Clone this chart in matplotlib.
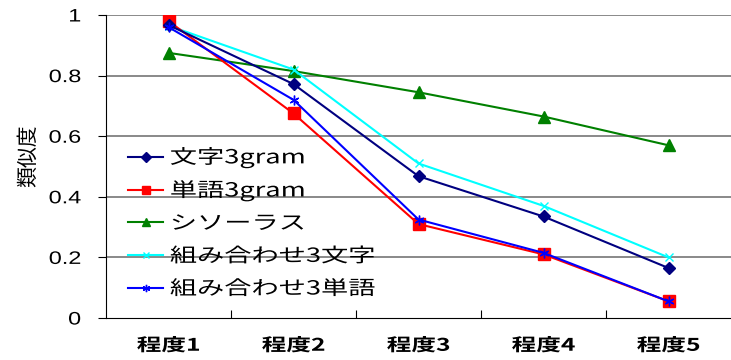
import matplotlib
matplotlib.use("Agg")
import matplotlib.pyplot as plt
from matplotlib.patheffects import AbstractPathEffect
from matplotlib.transforms import Affine2D

plt.rcParams['font.family'] = ['Noto Sans CJK JP', 'DejaVu Sans']

categories = ["程度1", "程度2", "程度3", "程度4", "程度5"]
moji3gram = [0.967, 0.772, 0.468, 0.335, 0.165]
tango3gram = [0.98, 0.675, 0.31, 0.21, 0.055]
thesaurus = [0.875, 0.815, 0.745, 0.665, 0.57]
kumi_moji = [0.965, 0.82, 0.51, 0.37, 0.2]
kumi_tango = [0.96, 0.72, 0.325, 0.215, 0.055]
series_labels = ["文字3gram", "単語3gram", "シソーラス", "組み合わせ3文字", "組み合わせ3単語"]
yticks = [0, 0.2, 0.4, 0.6, 0.8, 1]
ytick_labels = ["0", "0.2", "0.4", "0.6", "0.8", "1"]


class Stretch(AbstractPathEffect):
    """Horizontally stretch text glyphs around an anchor."""
    def __init__(self, sx, anchor="left"):
        super().__init__()
        self.sx = sx
        self.anchor = anchor

    def draw_path(self, renderer, gc, tpath, affine, rgbFace=None):
        ext = tpath.get_extents()
        if self.anchor == "left":
            x0 = 0.0
        elif self.anchor == "right":
            x0 = ext.x1
        else:
            x0 = (ext.x0 + ext.x1) / 2
        aff = Affine2D().translate(-x0, 0).scale(self.sx, 1).translate(x0, 0) + affine
        renderer.draw_path(gc, tpath, aff, rgbFace)


W, H = 731, 360
fig = plt.figure(figsize=(W / 100, H / 100), dpi=100)
ax = fig.add_axes([106 / W, 1 - 318 / H, 1 - 106 / W, 303 / H])

x = list(range(len(categories)))
ax.plot(x, moji3gram, color="#000080", marker="D", markersize=6.5, lw=1.5, label=series_labels[0], zorder=5)
ax.plot(x, tango3gram, color="#ff0000", marker="s", markersize=8.5, lw=1.5, label=series_labels[1], zorder=4)
ax.plot(x, thesaurus, color="#008000", marker="^", markersize=8.5, lw=1.5, label=series_labels[2], zorder=3)
ax.plot(x, kumi_moji, color="#00ffff", marker="x", markersize=6, lw=1.5, label=series_labels[3], zorder=3)
ax.plot(x, kumi_tango, color="#0000ff", marker=(6, 2, 0), markersize=7, lw=1.5, label=series_labels[4], zorder=6)

ax.set_xlim(-0.5, 4.5)
ax.set_ylim(0, 1)
ax.set_yticks(yticks)
ylabs = ax.set_yticklabels(ytick_labels, fontsize=13, family=['Liberation Sans', 'DejaVu Sans'])
for t in ylabs:
    t.set_path_effects([Stretch(1.3, "right")])
for yv in yticks[1:]:
    ax.axhline(yv, color="#808080", lw=1.3, zorder=0)

ax.set_xticks([i + 0.5 for i in range(len(categories) - 1)])
ax.set_xticklabels([])
ax.set_xticks(x, minor=True)
xlabs = ax.set_xticklabels(categories, minor=True, fontsize=12.5, fontweight='bold')
for t in xlabs:
    t.set_path_effects([Stretch(1.42, "center")])
ax.tick_params(axis='x', which='minor', length=0, pad=13.5)
ax.tick_params(axis='x', which='major', direction='in', length=6, color="#000000")
ax.tick_params(axis='y', direction='out', length=6, pad=12)

ax.spines['top'].set_visible(False)
ax.spines['right'].set_visible(False)
ax.spines['left'].set_color("#000000")
ax.spines['bottom'].set_color("#000000")

ylab = fig.text(28 / W, 1 - 156 / H, "類似度", rotation=90, ha="center", va="center", fontsize=15)

leg = ax.legend(loc="upper left", bbox_to_anchor=((128 - 106) / 625, (318 - 147) / 303),
                frameon=False, fontsize=14, borderpad=0, borderaxespad=0,
                handlelength=1.8, handletextpad=0.35, labelspacing=0.6, markerscale=0.75)
for t in leg.get_texts():
    t.set_path_effects([Stretch(1.4, "left")])

fig.savefig("out.png", dpi=100)
